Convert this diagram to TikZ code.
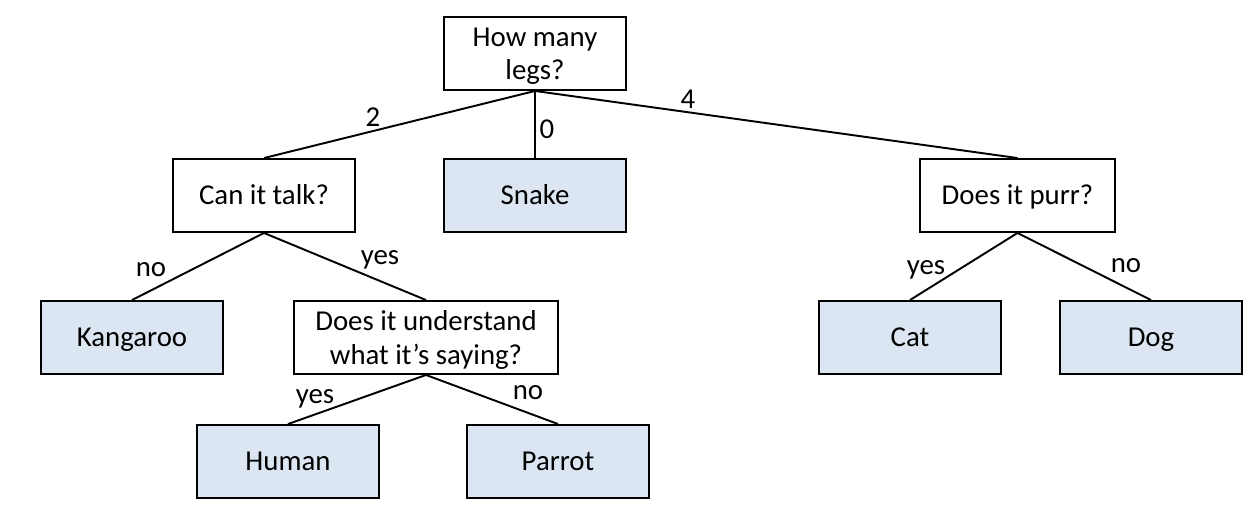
\documentclass[tikz,border=0pt]{standalone}
\usepackage{fontspec}
\setmainfont{Carlito}
\usepackage{tikz}
\usetikzlibrary{positioning}
\definecolor{leafblue}{HTML}{DCE6F2}

\begin{document}
\begin{tikzpicture}[
    x=0.02cm, y=-0.02cm,
    font=\fontsize{16.4}{19}\selectfont,
    question/.style={rectangle, draw, line width=1.1pt, minimum width=3.64cm, minimum height=1.46cm, align=center, inner sep=2pt},
    oneline/.style={text height=1.1em, text depth=0.12em},
    twoline/.style={text depth=0pt},
    answer/.style={question, oneline, fill=leafblue},
    branch/.style={line width=1.1pt},
    lbl/.style={inner sep=0pt, oneline}
]
\useasboundingbox (0,0) rectangle (1253,524);

% questions
\node[question, twoline] (legs) at (535,53.5) {How many\\legs?};
\node[question, oneline] (talk) at (264,195.5) {Can it talk?};
\node[question, oneline, minimum width=3.9cm] (purr) at (1017.5,195.5) {Does it purr?};
\node[question, twoline, minimum width=5.28cm] (understand) at (426,337.5) {Does it understand\\what it’s saying?};

% answers
\node[answer] (snake) at (535,195.5) {Snake};
\node[answer] (kangaroo) at (132,337.5) {Kangaroo};
\node[answer] (cat) at (910,337.5) {Cat};
\node[answer] (dog) at (1151,337.5) {Dog};
\node[answer] (human) at (288,461.5) {Human};
\node[answer] (parrot) at (558,461.5) {Parrot};

% branches
\draw[branch] (legs.south) -- (talk.north);
\draw[branch] (legs.south) -- (snake.north);
\draw[branch] (legs.south) -- (purr.north);
\draw[branch] (talk.south) -- (kangaroo.north);
\draw[branch] (talk.south) -- (understand.north);
\draw[branch] (purr.south) -- (cat.north);
\draw[branch] (purr.south) -- (dog.north);
\draw[branch] (understand.south) -- (human.north);
\draw[branch] (understand.south) -- (parrot.north);

% branch labels
\node[lbl] (l2) at (373,118) {2};
\node[lbl] (l0) at (547,130) {0};
\node[lbl] (l4) at (688,100) {4};
\node[lbl] (lno1) at (151,268) {no};
\node[lbl] (lyes1) at (380,256) {yes};
\node[lbl] (lyes2) at (926,266) {yes};
\node[lbl] (lno2) at (1126,264) {no};
\node[lbl] (lyes3) at (315,395) {yes};
\node[lbl] (lno3) at (528,391) {no};

\end{tikzpicture}
\end{document}
